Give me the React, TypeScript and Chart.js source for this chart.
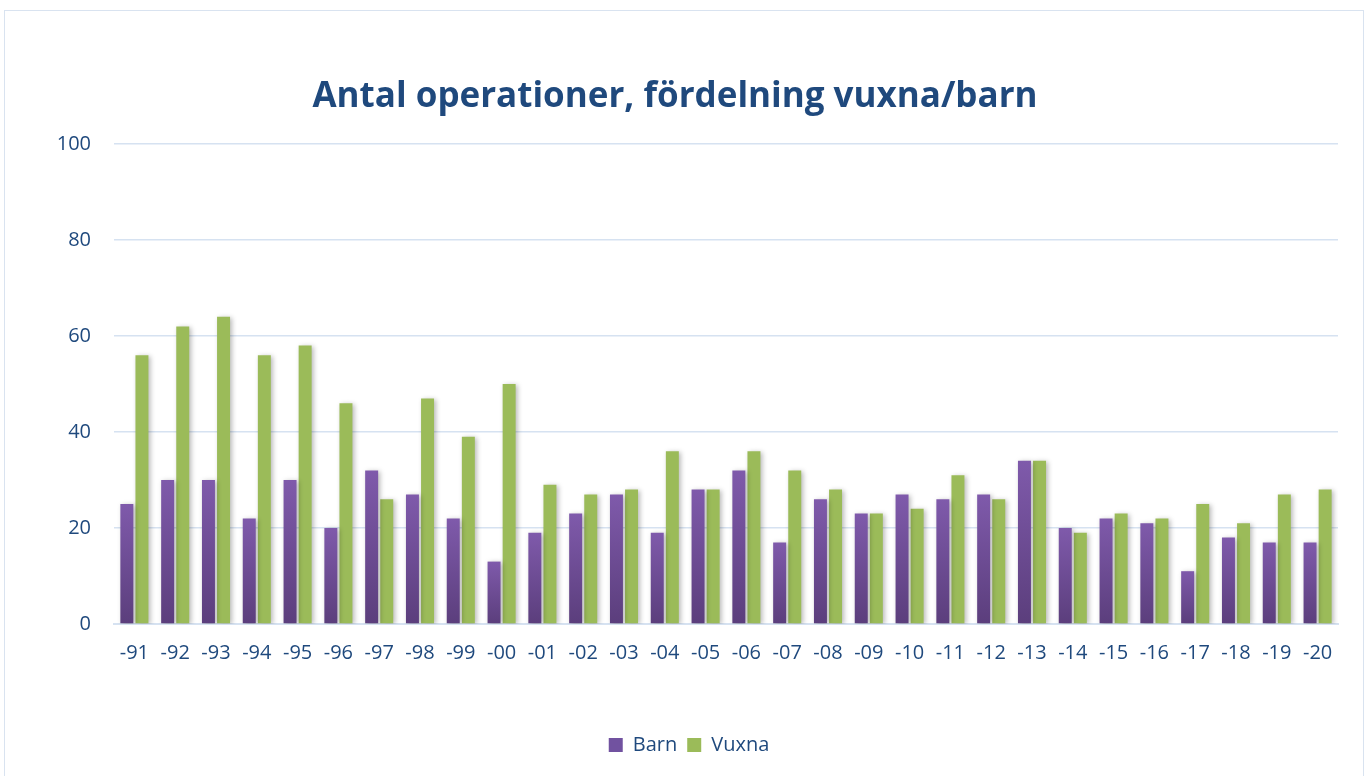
import React, { useEffect, useRef } from "react";
import { Chart, registerables } from "chart.js";

Chart.register(...registerables);

const years = ["-91","-92","-93","-94","-95","-96","-97","-98","-99","-00","-01","-02","-03","-04","-05","-06","-07","-08","-09","-10","-11","-12","-13","-14","-15","-16","-17","-18","-19","-20"];
const barn = [25,30,30,22,30,20,32,27,22,13,19,23,27,19,28,32,17,26,23,27,26,27,34,20,22,21,11,18,17,17];
const vuxna = [56,62,64,56,58,46,26,47,39,50,29,27,28,36,28,36,32,28,23,24,31,26,34,19,23,22,25,21,27,28];
const yTicks = [0, 20, 40, 60, 80, 100];

const TEXT = "#1f497d";
const GRID = "#d6e2f1";
const FONT = "'Open Sans', 'Noto Sans', sans-serif";

const shadowPlugin = {
  id: "barShadow",
  afterLayout(chart: any) {
    const lg = chart.legend;
    if (lg) {
      lg.left += 14;
      lg.right += 14;
    }
  },
  beforeDatasetsDraw(chart: any) {
    const c = chart.ctx;
    c.save();
    c.shadowColor = "rgba(0,0,0,0.28)";
    c.shadowBlur = 5;
    c.shadowOffsetX = 2;
    c.shadowOffsetY = 1;
  },
  afterDatasetsDraw(chart: any) {
    chart.ctx.restore();
  },
};

export default function App() {
  const ref = useRef<HTMLCanvasElement>(null);
  useEffect(() => {
    document.body.style.margin = "0";
    const purple = (ctx: any) => {
      const chart = ctx.chart;
      const y = chart.scales && chart.scales.y;
      if (!y || ctx.raw === undefined) return "#7152a0";
      const top = y.getPixelForValue(ctx.raw);
      const bot = y.getPixelForValue(0);
      const g = chart.ctx.createLinearGradient(0, top, 0, bot);
      g.addColorStop(0, "#7f5aab");
      g.addColorStop(1, "#5b3e7c");
      return g;
    };
    const chart = new Chart(ref.current!, {
      type: "bar",
      data: {
        labels: years,
        datasets: [
          { label: "Barn", data: barn, backgroundColor: purple, borderWidth: 0 },
          { label: "Vuxna", data: vuxna, backgroundColor: "#9bbb59", borderWidth: 0 },
        ],
      },
      options: {
        responsive: false,
        animation: false,
        layout: { padding: { left: 0, right: 20, top: 0, bottom: 11 } },
        datasets: { bar: { categoryPercentage: 0.74, barPercentage: 0.86 } },
        plugins: {
          title: {
            display: true,
            text: "Antal operationer, fördelning vuxna/barn",
            color: TEXT,
            font: { family: FONT, size: 35, weight: "bold" },
            padding: { top: 76, bottom: 26 },
          },
          legend: {
            position: "bottom",
            labels: {
              color: TEXT,
              font: { family: FONT, size: 20 },
              boxWidth: 14,
              boxHeight: 14,
              padding: 10,
              generateLabels: () => [
                { text: "Barn", fillStyle: "#7152a0", strokeStyle: "#7152a0", lineWidth: 0, fontColor: TEXT, datasetIndex: 0 },
                { text: "Vuxna", fillStyle: "#9bbb59", strokeStyle: "#9bbb59", lineWidth: 0, fontColor: TEXT, datasetIndex: 1 },
              ] as any,
            },
          },
          tooltip: { enabled: false },
        },
        scales: {
          x: {
            grid: { display: false, drawTicks: false },
            border: { display: true, color: GRID, width: 2 },
            ticks: { color: TEXT, font: { family: FONT, size: 20 }, padding: 17, maxRotation: 0, autoSkip: false },
            afterFit: (s: any) => { s.height = 101; },
          },
          y: {
            min: 0,
            max: 100,
            afterBuildTicks: (s: any) => { s.ticks = yTicks.map((v) => ({ value: v })); },
            grid: { color: GRID, lineWidth: 1.5, drawTicks: false },
            border: { display: false },
            ticks: { color: TEXT, font: { family: FONT, size: 20 }, padding: 23 },
            afterFit: (s: any) => { s.width = 114; },
          },
          yRight: {
            position: "right",
            min: 0,
            max: 100,
            grid: { display: false, drawTicks: false },
            border: { display: false },
            ticks: { display: false },
            afterFit: (s: any) => { s.width = 12; },
          },
        },
      },
      plugins: [shadowPlugin],
    });
    return () => chart.destroy();
  }, []);
  return (
    <div style={{ position: "relative", width: 1370, height: 776, overflow: "hidden", background: "#fff" }}>
      <div style={{ position: "absolute", left: 4, top: 10, width: 1360, height: 800, border: "1.5px solid #d9e3f0", boxSizing: "border-box" }} />
      <canvas ref={ref} width={1370} height={776} style={{ position: "absolute", left: 0, top: 0 }} />
    </div>
  );
}
